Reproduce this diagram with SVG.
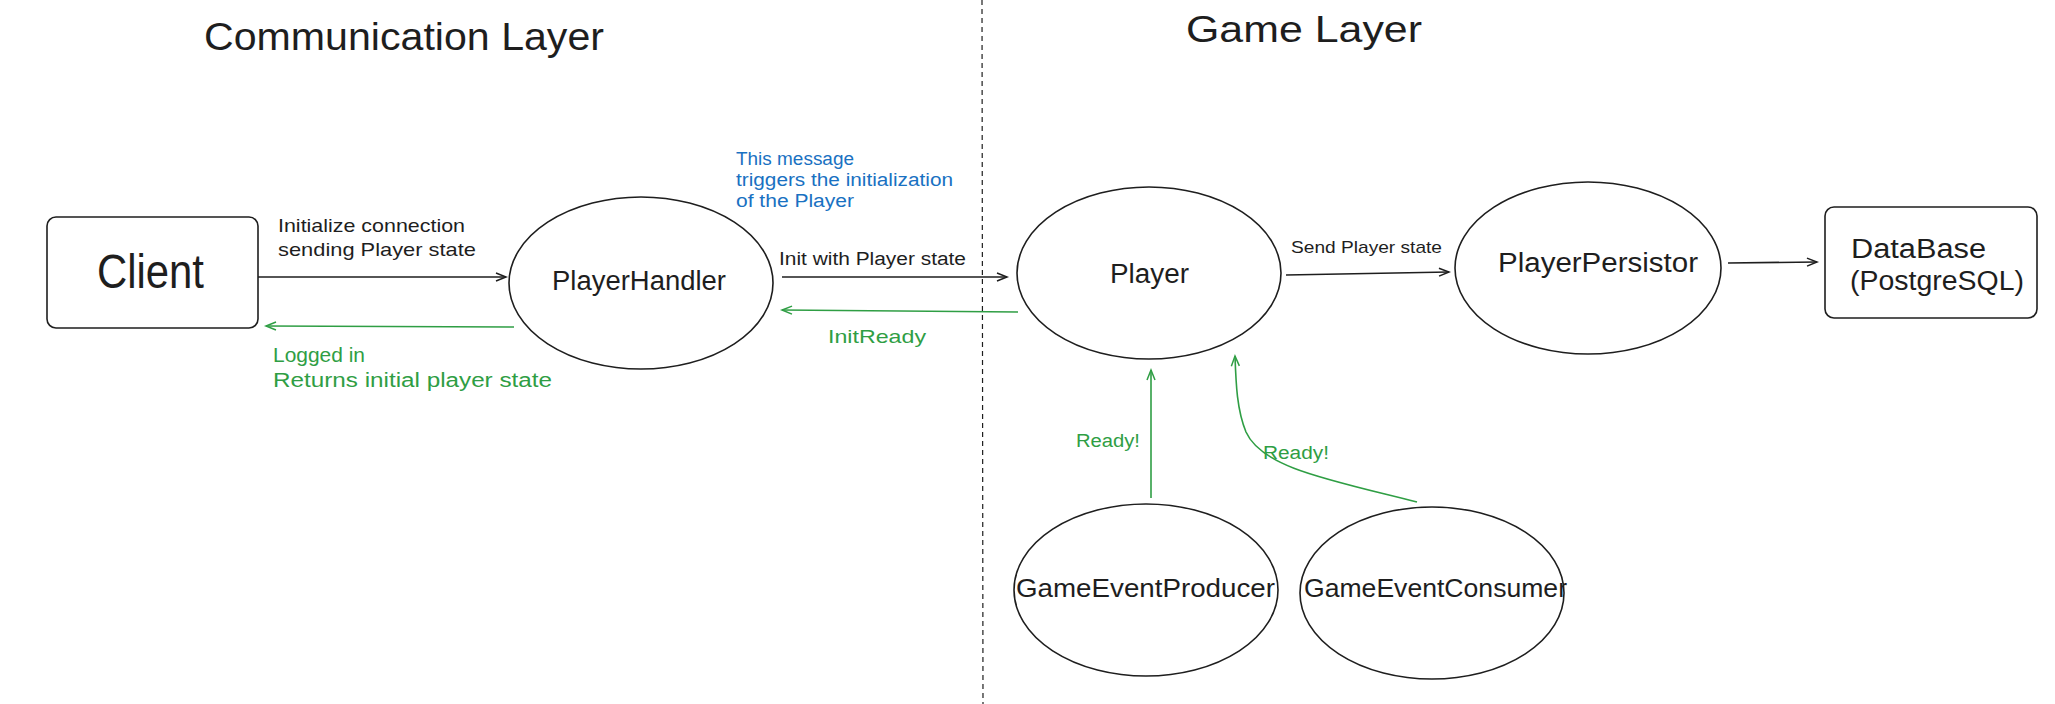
<svg xmlns="http://www.w3.org/2000/svg" width="2055" height="704" viewBox="0 0 2055 704">
<style>
.shape{fill:none;stroke:#1e1e1e;stroke-width:1.6}
.t{font-family:"Liberation Sans",Arial,sans-serif;fill:#1e1e1e}
.g{fill:#2f9e44}
.b{fill:#1971c2}
.k{fill:none;stroke:#1e1e1e;stroke-width:1.6}
.gr{fill:none;stroke:#2f9e44;stroke-width:1.6}
</style>
<defs>
<marker id="ak" markerUnits="userSpaceOnUse" markerWidth="14" markerHeight="12" refX="11" refY="6" orient="auto">
<path d="M1,2 L11,6 L1,10" fill="none" stroke="#1e1e1e" stroke-width="1.5"/>
</marker>
<marker id="ag" markerUnits="userSpaceOnUse" markerWidth="14" markerHeight="12" refX="11" refY="6" orient="auto">
<path d="M1,2 L11,6 L1,10" fill="none" stroke="#2f9e44" stroke-width="1.5"/>
</marker>
</defs>
<rect width="2055" height="704" fill="#ffffff"/>
<g id="titles">
<text class="t" x="204" y="50" font-size="38" textLength="400" lengthAdjust="spacingAndGlyphs">Communication Layer</text>
<text class="t" x="1186" y="42" font-size="36" textLength="236" lengthAdjust="spacingAndGlyphs">Game Layer</text>
</g>
<g id="divider">
<line x1="982" y1="0" x2="983" y2="704" stroke="#1e1e1e" stroke-width="1.2" stroke-dasharray="5,4"/>
</g>
<g id="client">
<rect class="shape" x="47" y="217" width="211" height="111" rx="9"/>
<text class="t" x="97" y="288" font-size="48" textLength="107" lengthAdjust="spacingAndGlyphs">Client</text>
</g>
<g id="playerhandler">
<ellipse class="shape" cx="641" cy="283" rx="132" ry="86"/>
<text class="t" x="552" y="290" font-size="27" textLength="174" lengthAdjust="spacingAndGlyphs">PlayerHandler</text>
</g>
<g id="player">
<ellipse class="shape" cx="1149" cy="273" rx="132" ry="86"/>
<text class="t" x="1110" y="283" font-size="27" textLength="79" lengthAdjust="spacingAndGlyphs">Player</text>
</g>
<g id="playerpersistor">
<ellipse class="shape" cx="1588" cy="268" rx="133" ry="86"/>
<text class="t" x="1498" y="272" font-size="27" textLength="200" lengthAdjust="spacingAndGlyphs">PlayerPersistor</text>
</g>
<g id="database">
<rect class="shape" x="1825" y="207" width="212" height="111" rx="9"/>
<text class="t" x="1851" y="258" font-size="27" textLength="135" lengthAdjust="spacingAndGlyphs">DataBase</text>
<text class="t" x="1850" y="290" font-size="27" textLength="174" lengthAdjust="spacingAndGlyphs">(PostgreSQL)</text>
</g>
<g id="gameeventproducer">
<ellipse class="shape" cx="1146" cy="590" rx="132" ry="86"/>
<text class="t" x="1016" y="597" font-size="25" textLength="259" lengthAdjust="spacingAndGlyphs">GameEventProducer</text>
</g>
<g id="gameeventconsumer">
<ellipse class="shape" cx="1432" cy="593" rx="132" ry="86"/>
<text class="t" x="1304" y="597" font-size="25" textLength="263" lengthAdjust="spacingAndGlyphs">GameEventConsumer</text>
</g>
<g id="connectors">
<line class="k" x1="258" y1="277" x2="506" y2="277" marker-end="url(#ak)"/>
<line class="gr" x1="514" y1="327" x2="266" y2="326" marker-end="url(#ag)"/>
<line class="k" x1="782" y1="277" x2="1007" y2="277" marker-end="url(#ak)"/>
<line class="gr" x1="1018" y1="312" x2="782" y2="310" marker-end="url(#ag)"/>
<line class="k" x1="1286" y1="275" x2="1449" y2="272" marker-end="url(#ak)"/>
<line class="k" x1="1728" y1="263" x2="1817" y2="262" marker-end="url(#ak)"/>
<line class="gr" x1="1151" y1="498" x2="1151" y2="370" marker-end="url(#ag)"/>
<path class="gr" d="M1417,502 C1330,480 1262,468 1246,432 C1237,410 1236,385 1235,356" marker-end="url(#ag)"/>
</g>
<g id="labels">
<text class="t" x="278" y="232" font-size="19" textLength="187" lengthAdjust="spacingAndGlyphs">Initialize connection</text>
<text class="t" x="278" y="256" font-size="19" textLength="198" lengthAdjust="spacingAndGlyphs">sending Player state</text>
<text class="t g" x="273" y="362" font-size="20" textLength="92" lengthAdjust="spacingAndGlyphs">Logged in</text>
<text class="t g" x="273" y="387" font-size="20" textLength="279" lengthAdjust="spacingAndGlyphs">Returns initial player state</text>
<text class="t b" x="736" y="165" font-size="18" textLength="118" lengthAdjust="spacingAndGlyphs">This message</text>
<text class="t b" x="736" y="186" font-size="18" textLength="217" lengthAdjust="spacingAndGlyphs">triggers the initialization</text>
<text class="t b" x="736" y="207" font-size="18" textLength="118" lengthAdjust="spacingAndGlyphs">of the Player</text>
<text class="t" x="779" y="265" font-size="18" textLength="187" lengthAdjust="spacingAndGlyphs">Init with Player state</text>
<text class="t g" x="828" y="343" font-size="19" textLength="98" lengthAdjust="spacingAndGlyphs">InitReady</text>
<text class="t" x="1291" y="253" font-size="17" textLength="151" lengthAdjust="spacingAndGlyphs">Send Player state</text>
<text class="t g" x="1076" y="447" font-size="18" textLength="64" lengthAdjust="spacingAndGlyphs">Ready!</text>
<text class="t g" x="1263" y="459" font-size="18" textLength="66" lengthAdjust="spacingAndGlyphs">Ready!</text>
</g>
</svg>
